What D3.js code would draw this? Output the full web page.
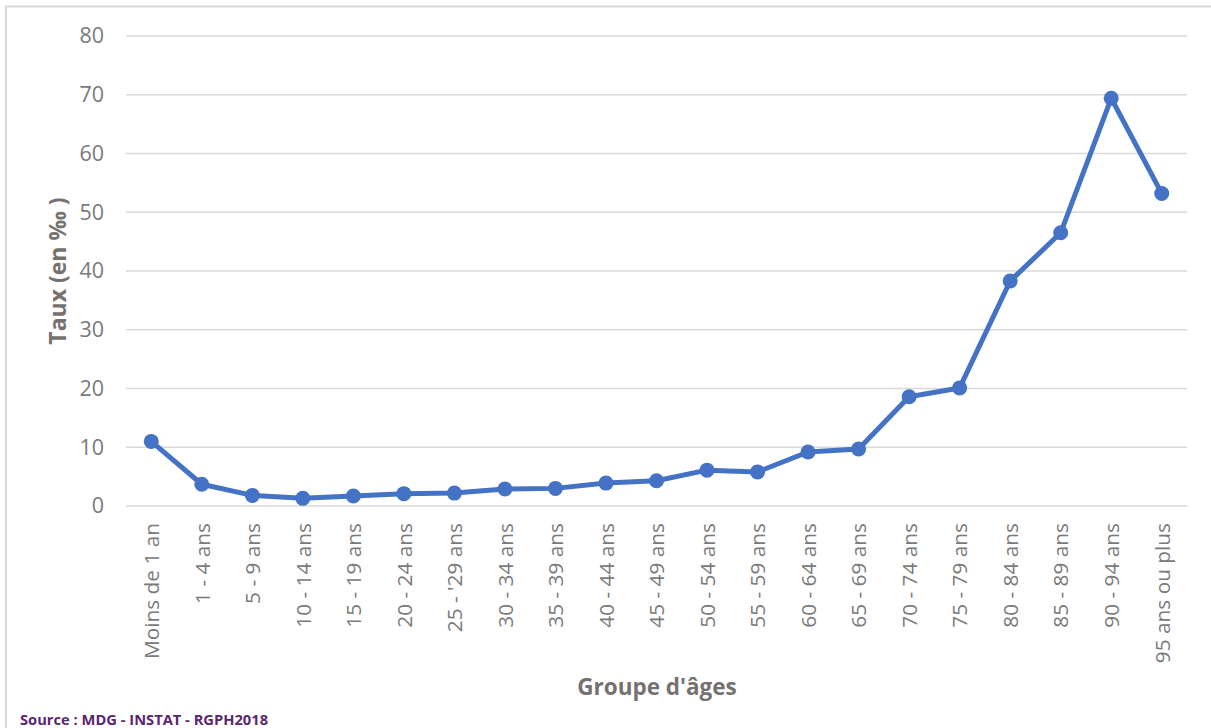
<!DOCTYPE html>
<html>
<head>
<meta charset="utf-8">
<script src="https://cdn.jsdelivr.net/npm/d3@7"></script>
<style>
body { margin: 0; background: #fff; }
svg { display: block; }
svg text { font-family: 'Open Sans', sans-serif; }
</style>
</head>
<body>
<div class="chart"></div>
<script>
var width = 1211;
var height = 728;

// data
var groupes = ["Moins de 1 an", "1 - 4 ans", "5 - 9 ans", "10 - 14 ans", "15 - 19 ans",
	"20 - 24 ans", "25 - '29 ans", "30 - 34 ans", "35 - 39 ans", "40 - 44 ans",
	"45 - 49 ans", "50 - 54 ans", "55 - 59 ans", "60 - 64 ans", "65 - 69 ans",
	"70 - 74 ans", "75 - 79 ans", "80 - 84 ans", "85 - 89 ans", "90 - 94 ans",
	"95 ans ou plus"];
var taux = [11.0, 3.7, 1.8, 1.3, 1.7, 2.1, 2.2, 2.9, 3.0, 3.9,
	4.3, 6.1, 5.8, 9.2, 9.7, 18.6, 20.1, 38.3, 46.5, 69.4, 53.2];
var yTicks = [0, 10, 20, 30, 40, 50, 60, 70, 80];

var plotLeft = 126, plotRight = 1187, plotTop = 36, plotBottom = 506;
var textColor = "#7a7a7a";
var titleColor = "#767171";

var svg = d3.select(".chart").append("svg")
	.attr("width", width)
	.attr("height", height);

// chart frame (only top and left visible)
svg.append("path")
	.attr("d", "M6," + height + " V6.5 H" + width)
	.attr("fill", "none")
	.attr("stroke", "#d9d9d9")
	.attr("stroke-width", 2);

var x = d3.scalePoint()
	.domain(groupes)
	.range([plotLeft, plotRight])
	.padding(0.5);

var y = d3.scaleLinear()
	.domain([0, 80])
	.range([plotBottom, plotTop]);

// gridlines
svg.append("g")
	.selectAll("line")
	.data(yTicks)
	.enter().append("line")
	.attr("x1", plotLeft)
	.attr("x2", plotRight)
	.attr("y1", function (d) { return y(d); })
	.attr("y2", function (d) { return y(d); })
	.attr("stroke", "#d9d9d9")
	.attr("stroke-width", 1.5);

// y axis
var yAxis = d3.axisLeft(y).tickValues(yTicks).tickSize(0).tickPadding(22);
var gy = svg.append("g")
	.attr("transform", "translate(" + plotLeft + ",0)")
	.call(yAxis);
gy.select(".domain").remove();
gy.selectAll("text")
	.attr("fill", textColor)
	.style("font-size", "21.5px");

// x axis
var xAxis = d3.axisBottom(x).tickSize(0).tickPadding(0);
var gx = svg.append("g")
	.attr("transform", "translate(0," + plotBottom + ")")
	.call(xAxis);
gx.select(".domain").remove();
gx.selectAll("text")
	.attr("fill", textColor)
	.style("font-size", "20.8px")
	.attr("text-anchor", "end")
	.attr("dy", "0.35em")
	.attr("transform", "translate(0,17) rotate(-90)")
	.attr("x", 0)
	.attr("y", 0);

// line
var line = d3.line()
	.x(function (d, i) { return x(groupes[i]); })
	.y(function (d) { return y(d); });

svg.append("path")
	.datum(taux)
	.attr("d", line)
	.attr("fill", "none")
	.attr("stroke", "#4472c4")
	.attr("stroke-width", 5)
	.attr("stroke-linejoin", "round");

svg.append("g")
	.selectAll("circle")
	.data(taux)
	.enter().append("circle")
	.attr("cx", function (d, i) { return x(groupes[i]); })
	.attr("cy", function (d) { return y(d); })
	.attr("r", 7.5)
	.attr("fill", "#4472c4");

// axis titles
svg.append("text")
	.attr("transform", "translate(66," + ((plotTop + plotBottom) / 2) + ") rotate(-90)")
	.attr("text-anchor", "middle")
	.attr("fill", titleColor)
	.style("font-size", "23px")
	.style("font-weight", "bold")
	.text("Taux (en ‰ )");

svg.append("text")
	.attr("x", 657)
	.attr("y", 695)
	.attr("text-anchor", "middle")
	.attr("fill", titleColor)
	.style("font-size", "22.5px")
	.style("font-weight", "bold")
	.text("Groupe d'âges");

// source
svg.append("text")
	.attr("x", 20)
	.attr("y", 725)
	.attr("fill", "#5b2670")
	.style("font-size", "14.7px")
	.style("font-weight", "bold")
	.text("Source : MDG - INSTAT - RGPH2018");
</script>
</body>
</html>
